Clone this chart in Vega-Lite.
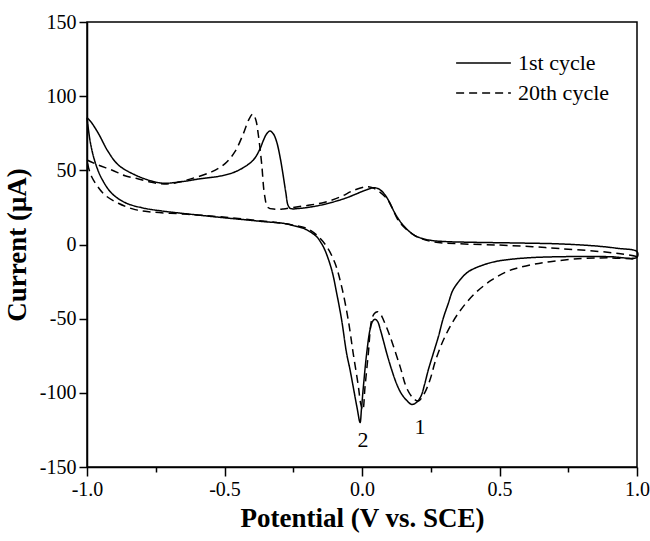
{
  "$schema": "https://vega.github.io/schema/vega-lite/v6.json",
  "width": 550,
  "height": 445,
  "autosize": "none",
  "padding": {"left": 87, "top": 22, "right": 13, "bottom": 74},
  "background": "white",
  "config": {
    "font": "Times New Roman, Liberation Serif, DejaVu Serif, serif",
    "view": {"stroke": "black", "strokeWidth": 1.5},
    "axis": {
      "grid": false,
      "domainColor": "black",
      "domainWidth": 1.5,
      "tickColor": "black",
      "tickWidth": 1.5,
      "labelColor": "black",
      "labelFont": "Times New Roman, Liberation Serif, DejaVu Serif, serif",
      "labelFontSize": 20,
      "labelFlush": false,
      "labelOverlap": false,
      "titleColor": "black",
      "titleFont": "Times New Roman, Liberation Serif, DejaVu Serif, serif",
      "titleFontSize": 27,
      "titleFontWeight": "bold"
    }
  },
  "datasets": {
    "cv": [
      {"cycle": "1st cycle", "seq": 1, "E": -1.0, "I": 85.5},
      {"cycle": "1st cycle", "seq": 2, "E": -0.985, "I": 82.5},
      {"cycle": "1st cycle", "seq": 3, "E": -0.959, "I": 75},
      {"cycle": "1st cycle", "seq": 4, "E": -0.923, "I": 62.6},
      {"cycle": "1st cycle", "seq": 5, "E": -0.886, "I": 53.6},
      {"cycle": "1st cycle", "seq": 6, "E": -0.825, "I": 46.9},
      {"cycle": "1st cycle", "seq": 7, "E": -0.765, "I": 42.8},
      {"cycle": "1st cycle", "seq": 8, "E": -0.722, "I": 41.3},
      {"cycle": "1st cycle", "seq": 9, "E": -0.65, "I": 42.5},
      {"cycle": "1st cycle", "seq": 10, "E": -0.589, "I": 44.3},
      {"cycle": "1st cycle", "seq": 11, "E": -0.52, "I": 46},
      {"cycle": "1st cycle", "seq": 12, "E": -0.468, "I": 48.5},
      {"cycle": "1st cycle", "seq": 13, "E": -0.43, "I": 52},
      {"cycle": "1st cycle", "seq": 14, "E": -0.395, "I": 57},
      {"cycle": "1st cycle", "seq": 15, "E": -0.372, "I": 64},
      {"cycle": "1st cycle", "seq": 16, "E": -0.359, "I": 70},
      {"cycle": "1st cycle", "seq": 17, "E": -0.347, "I": 74.5},
      {"cycle": "1st cycle", "seq": 18, "E": -0.335, "I": 76.5},
      {"cycle": "1st cycle", "seq": 19, "E": -0.322, "I": 74.5},
      {"cycle": "1st cycle", "seq": 20, "E": -0.31, "I": 69},
      {"cycle": "1st cycle", "seq": 21, "E": -0.298, "I": 59},
      {"cycle": "1st cycle", "seq": 22, "E": -0.287, "I": 47},
      {"cycle": "1st cycle", "seq": 23, "E": -0.277, "I": 35},
      {"cycle": "1st cycle", "seq": 24, "E": -0.269, "I": 26.5},
      {"cycle": "1st cycle", "seq": 25, "E": -0.26, "I": 24.3},
      {"cycle": "1st cycle", "seq": 26, "E": -0.225, "I": 24.4},
      {"cycle": "1st cycle", "seq": 27, "E": -0.18, "I": 25.5},
      {"cycle": "1st cycle", "seq": 28, "E": -0.135, "I": 27.2},
      {"cycle": "1st cycle", "seq": 29, "E": -0.062, "I": 31.1},
      {"cycle": "1st cycle", "seq": 30, "E": 0.011, "I": 36.5},
      {"cycle": "1st cycle", "seq": 31, "E": 0.035, "I": 38},
      {"cycle": "1st cycle", "seq": 32, "E": 0.047, "I": 38.3},
      {"cycle": "1st cycle", "seq": 33, "E": 0.065, "I": 37},
      {"cycle": "1st cycle", "seq": 34, "E": 0.084, "I": 33.4},
      {"cycle": "1st cycle", "seq": 35, "E": 0.1, "I": 28.5},
      {"cycle": "1st cycle", "seq": 36, "E": 0.12, "I": 21},
      {"cycle": "1st cycle", "seq": 37, "E": 0.145, "I": 14},
      {"cycle": "1st cycle", "seq": 38, "E": 0.169, "I": 9.3},
      {"cycle": "1st cycle", "seq": 39, "E": 0.192, "I": 6},
      {"cycle": "1st cycle", "seq": 40, "E": 0.217, "I": 4.2},
      {"cycle": "1st cycle", "seq": 41, "E": 0.25, "I": 2.8},
      {"cycle": "1st cycle", "seq": 42, "E": 0.3, "I": 2},
      {"cycle": "1st cycle", "seq": 43, "E": 0.4, "I": 1.5},
      {"cycle": "1st cycle", "seq": 44, "E": 0.5, "I": 1.2},
      {"cycle": "1st cycle", "seq": 45, "E": 0.6, "I": 0.9},
      {"cycle": "1st cycle", "seq": 46, "E": 0.72, "I": 0.4},
      {"cycle": "1st cycle", "seq": 47, "E": 0.85, "I": -1},
      {"cycle": "1st cycle", "seq": 48, "E": 0.93, "I": -2.6},
      {"cycle": "1st cycle", "seq": 49, "E": 1.0, "I": -4.8},
      {"cycle": "1st cycle", "seq": 50, "E": 1.0, "I": -8.6},
      {"cycle": "1st cycle", "seq": 51, "E": 0.9, "I": -8.2},
      {"cycle": "1st cycle", "seq": 52, "E": 0.8, "I": -8.1},
      {"cycle": "1st cycle", "seq": 53, "E": 0.7, "I": -8.3},
      {"cycle": "1st cycle", "seq": 54, "E": 0.62, "I": -8.8},
      {"cycle": "1st cycle", "seq": 55, "E": 0.55, "I": -9.8},
      {"cycle": "1st cycle", "seq": 56, "E": 0.49, "I": -11.3},
      {"cycle": "1st cycle", "seq": 57, "E": 0.441, "I": -13.8},
      {"cycle": "1st cycle", "seq": 58, "E": 0.387, "I": -18.3},
      {"cycle": "1st cycle", "seq": 59, "E": 0.356, "I": -24},
      {"cycle": "1st cycle", "seq": 60, "E": 0.33, "I": -31},
      {"cycle": "1st cycle", "seq": 61, "E": 0.314, "I": -39.6},
      {"cycle": "1st cycle", "seq": 62, "E": 0.295, "I": -50},
      {"cycle": "1st cycle", "seq": 63, "E": 0.278, "I": -62},
      {"cycle": "1st cycle", "seq": 64, "E": 0.26, "I": -73},
      {"cycle": "1st cycle", "seq": 65, "E": 0.241, "I": -84.6},
      {"cycle": "1st cycle", "seq": 66, "E": 0.228, "I": -94},
      {"cycle": "1st cycle", "seq": 67, "E": 0.215, "I": -102},
      {"cycle": "1st cycle", "seq": 68, "E": 0.198, "I": -106.5},
      {"cycle": "1st cycle", "seq": 69, "E": 0.181, "I": -107.8},
      {"cycle": "1st cycle", "seq": 70, "E": 0.162, "I": -105},
      {"cycle": "1st cycle", "seq": 71, "E": 0.143, "I": -100.5},
      {"cycle": "1st cycle", "seq": 72, "E": 0.126, "I": -94},
      {"cycle": "1st cycle", "seq": 73, "E": 0.108, "I": -84.5},
      {"cycle": "1st cycle", "seq": 74, "E": 0.09, "I": -73.4},
      {"cycle": "1st cycle", "seq": 75, "E": 0.078, "I": -65},
      {"cycle": "1st cycle", "seq": 76, "E": 0.067, "I": -57.6},
      {"cycle": "1st cycle", "seq": 77, "E": 0.057, "I": -52},
      {"cycle": "1st cycle", "seq": 78, "E": 0.047, "I": -50.4},
      {"cycle": "1st cycle", "seq": 79, "E": 0.038, "I": -52},
      {"cycle": "1st cycle", "seq": 80, "E": 0.029, "I": -57.6},
      {"cycle": "1st cycle", "seq": 81, "E": 0.017, "I": -73.4},
      {"cycle": "1st cycle", "seq": 82, "E": 0.005, "I": -95.9},
      {"cycle": "1st cycle", "seq": 83, "E": -0.002, "I": -111},
      {"cycle": "1st cycle", "seq": 84, "E": -0.007, "I": -120},
      {"cycle": "1st cycle", "seq": 85, "E": -0.018, "I": -110},
      {"cycle": "1st cycle", "seq": 86, "E": -0.032, "I": -95.9},
      {"cycle": "1st cycle", "seq": 87, "E": -0.044, "I": -84},
      {"cycle": "1st cycle", "seq": 88, "E": -0.056, "I": -73.4},
      {"cycle": "1st cycle", "seq": 89, "E": -0.074, "I": -50.9},
      {"cycle": "1st cycle", "seq": 90, "E": -0.092, "I": -32.9},
      {"cycle": "1st cycle", "seq": 91, "E": -0.11, "I": -17.2},
      {"cycle": "1st cycle", "seq": 92, "E": -0.135, "I": -3.7},
      {"cycle": "1st cycle", "seq": 93, "E": -0.15, "I": 1.5},
      {"cycle": "1st cycle", "seq": 94, "E": -0.165, "I": 5.3},
      {"cycle": "1st cycle", "seq": 95, "E": -0.19, "I": 8.7},
      {"cycle": "1st cycle", "seq": 96, "E": -0.213, "I": 10.9},
      {"cycle": "1st cycle", "seq": 97, "E": -0.25, "I": 12.8},
      {"cycle": "1st cycle", "seq": 98, "E": -0.286, "I": 14.3},
      {"cycle": "1st cycle", "seq": 99, "E": -0.35, "I": 15.3},
      {"cycle": "1st cycle", "seq": 100, "E": -0.415, "I": 16.5},
      {"cycle": "1st cycle", "seq": 101, "E": -0.5, "I": 18},
      {"cycle": "1st cycle", "seq": 102, "E": -0.644, "I": 20.8},
      {"cycle": "1st cycle", "seq": 103, "E": -0.728, "I": 22.6},
      {"cycle": "1st cycle", "seq": 104, "E": -0.801, "I": 24.8},
      {"cycle": "1st cycle", "seq": 105, "E": -0.862, "I": 28.3},
      {"cycle": "1st cycle", "seq": 106, "E": -0.91, "I": 34.5},
      {"cycle": "1st cycle", "seq": 107, "E": -0.947, "I": 44.6},
      {"cycle": "1st cycle", "seq": 108, "E": -0.971, "I": 55.8},
      {"cycle": "1st cycle", "seq": 109, "E": -0.988, "I": 69},
      {"cycle": "1st cycle", "seq": 110, "E": -1.0, "I": 85.5},

      {"cycle": "20th cycle", "seq": 1, "E": -1.0, "I": 57},
      {"cycle": "20th cycle", "seq": 2, "E": -0.959, "I": 53.6},
      {"cycle": "20th cycle", "seq": 3, "E": -0.91, "I": 50.2},
      {"cycle": "20th cycle", "seq": 4, "E": -0.862, "I": 46.4},
      {"cycle": "20th cycle", "seq": 5, "E": -0.813, "I": 44.2},
      {"cycle": "20th cycle", "seq": 6, "E": -0.765, "I": 41.9},
      {"cycle": "20th cycle", "seq": 7, "E": -0.72, "I": 40.8},
      {"cycle": "20th cycle", "seq": 8, "E": -0.68, "I": 41.5},
      {"cycle": "20th cycle", "seq": 9, "E": -0.62, "I": 44.4},
      {"cycle": "20th cycle", "seq": 10, "E": -0.547, "I": 49},
      {"cycle": "20th cycle", "seq": 11, "E": -0.498, "I": 54.5},
      {"cycle": "20th cycle", "seq": 12, "E": -0.462, "I": 62.6},
      {"cycle": "20th cycle", "seq": 13, "E": -0.432, "I": 74.5},
      {"cycle": "20th cycle", "seq": 14, "E": -0.412, "I": 84},
      {"cycle": "20th cycle", "seq": 15, "E": -0.397, "I": 88},
      {"cycle": "20th cycle", "seq": 16, "E": -0.386, "I": 84},
      {"cycle": "20th cycle", "seq": 17, "E": -0.377, "I": 74},
      {"cycle": "20th cycle", "seq": 18, "E": -0.365, "I": 54.7},
      {"cycle": "20th cycle", "seq": 19, "E": -0.354, "I": 33},
      {"cycle": "20th cycle", "seq": 20, "E": -0.342, "I": 25},
      {"cycle": "20th cycle", "seq": 21, "E": -0.316, "I": 23.8},
      {"cycle": "20th cycle", "seq": 22, "E": -0.286, "I": 24},
      {"cycle": "20th cycle", "seq": 23, "E": -0.25, "I": 25},
      {"cycle": "20th cycle", "seq": 24, "E": -0.189, "I": 26.6},
      {"cycle": "20th cycle", "seq": 25, "E": -0.135, "I": 28.5},
      {"cycle": "20th cycle", "seq": 26, "E": -0.08, "I": 32},
      {"cycle": "20th cycle", "seq": 27, "E": -0.03, "I": 36.5},
      {"cycle": "20th cycle", "seq": 28, "E": 0.017, "I": 39},
      {"cycle": "20th cycle", "seq": 29, "E": 0.035, "I": 38.5},
      {"cycle": "20th cycle", "seq": 30, "E": 0.06, "I": 36},
      {"cycle": "20th cycle", "seq": 31, "E": 0.09, "I": 31},
      {"cycle": "20th cycle", "seq": 32, "E": 0.11, "I": 24.5},
      {"cycle": "20th cycle", "seq": 33, "E": 0.131, "I": 16.5},
      {"cycle": "20th cycle", "seq": 34, "E": 0.163, "I": 10},
      {"cycle": "20th cycle", "seq": 35, "E": 0.199, "I": 5.3},
      {"cycle": "20th cycle", "seq": 36, "E": 0.258, "I": 1.8},
      {"cycle": "20th cycle", "seq": 37, "E": 0.35, "I": 0.5},
      {"cycle": "20th cycle", "seq": 38, "E": 0.5, "I": -0.4},
      {"cycle": "20th cycle", "seq": 39, "E": 0.62, "I": -1.5},
      {"cycle": "20th cycle", "seq": 40, "E": 0.72, "I": -2.8},
      {"cycle": "20th cycle", "seq": 41, "E": 0.85, "I": -4.5},
      {"cycle": "20th cycle", "seq": 42, "E": 0.94, "I": -6.3},
      {"cycle": "20th cycle", "seq": 43, "E": 1.0, "I": -8.5},
      {"cycle": "20th cycle", "seq": 44, "E": 1.0, "I": -9.3},
      {"cycle": "20th cycle", "seq": 45, "E": 0.9, "I": -9},
      {"cycle": "20th cycle", "seq": 46, "E": 0.8, "I": -9.4},
      {"cycle": "20th cycle", "seq": 47, "E": 0.684, "I": -11.6},
      {"cycle": "20th cycle", "seq": 48, "E": 0.62, "I": -13.5},
      {"cycle": "20th cycle", "seq": 49, "E": 0.563, "I": -16},
      {"cycle": "20th cycle", "seq": 50, "E": 0.526, "I": -18.3},
      {"cycle": "20th cycle", "seq": 51, "E": 0.472, "I": -23.9},
      {"cycle": "20th cycle", "seq": 52, "E": 0.411, "I": -32.9},
      {"cycle": "20th cycle", "seq": 53, "E": 0.35, "I": -46.4},
      {"cycle": "20th cycle", "seq": 54, "E": 0.302, "I": -62},
      {"cycle": "20th cycle", "seq": 55, "E": 0.268, "I": -77.9},
      {"cycle": "20th cycle", "seq": 56, "E": 0.247, "I": -91.4},
      {"cycle": "20th cycle", "seq": 57, "E": 0.225, "I": -101},
      {"cycle": "20th cycle", "seq": 58, "E": 0.205, "I": -105.5},
      {"cycle": "20th cycle", "seq": 59, "E": 0.188, "I": -104},
      {"cycle": "20th cycle", "seq": 60, "E": 0.163, "I": -97},
      {"cycle": "20th cycle", "seq": 61, "E": 0.138, "I": -82},
      {"cycle": "20th cycle", "seq": 62, "E": 0.102, "I": -62},
      {"cycle": "20th cycle", "seq": 63, "E": 0.078, "I": -50.9},
      {"cycle": "20th cycle", "seq": 64, "E": 0.066, "I": -46.5},
      {"cycle": "20th cycle", "seq": 65, "E": 0.056, "I": -45.3},
      {"cycle": "20th cycle", "seq": 66, "E": 0.045, "I": -46.5},
      {"cycle": "20th cycle", "seq": 67, "E": 0.035, "I": -50.9},
      {"cycle": "20th cycle", "seq": 68, "E": 0.023, "I": -73.4},
      {"cycle": "20th cycle", "seq": 69, "E": 0.011, "I": -95.9},
      {"cycle": "20th cycle", "seq": 70, "E": 0.003, "I": -111.6},
      {"cycle": "20th cycle", "seq": 71, "E": -0.005, "I": -107},
      {"cycle": "20th cycle", "seq": 72, "E": -0.013, "I": -95.9},
      {"cycle": "20th cycle", "seq": 73, "E": -0.032, "I": -73.4},
      {"cycle": "20th cycle", "seq": 74, "E": -0.05, "I": -50.9},
      {"cycle": "20th cycle", "seq": 75, "E": -0.074, "I": -28.4},
      {"cycle": "20th cycle", "seq": 76, "E": -0.098, "I": -12.7},
      {"cycle": "20th cycle", "seq": 77, "E": -0.128, "I": -1.5},
      {"cycle": "20th cycle", "seq": 78, "E": -0.165, "I": 6.4},
      {"cycle": "20th cycle", "seq": 79, "E": -0.201, "I": 10.9},
      {"cycle": "20th cycle", "seq": 80, "E": -0.25, "I": 13},
      {"cycle": "20th cycle", "seq": 81, "E": -0.3, "I": 14.5},
      {"cycle": "20th cycle", "seq": 82, "E": -0.45, "I": 17.5},
      {"cycle": "20th cycle", "seq": 83, "E": -0.55, "I": 19.2},
      {"cycle": "20th cycle", "seq": 84, "E": -0.644, "I": 20.5},
      {"cycle": "20th cycle", "seq": 85, "E": -0.765, "I": 21.9},
      {"cycle": "20th cycle", "seq": 86, "E": -0.825, "I": 23.5},
      {"cycle": "20th cycle", "seq": 87, "E": -0.886, "I": 27.8},
      {"cycle": "20th cycle", "seq": 88, "E": -0.935, "I": 33.4},
      {"cycle": "20th cycle", "seq": 89, "E": -0.965, "I": 40.1},
      {"cycle": "20th cycle", "seq": 90, "E": -0.983, "I": 45.7},
      {"cycle": "20th cycle", "seq": 91, "E": -0.994, "I": 51.5},
      {"cycle": "20th cycle", "seq": 92, "E": -1.0, "I": 57}
    ],
    "peaks": [
      {"peak": "1", "E": 0.211, "I": -123},
      {"peak": "2", "E": 0.004, "I": -131.5}
    ]
  },
  "layer": [
    {
      "data": {"name": "cv"},
      "mark": {"type": "line", "color": "black", "strokeWidth": 1.5, "interpolate": "catmull-rom"},
      "encoding": {
        "x": {
          "field": "E",
          "type": "quantitative",
          "scale": {"domain": [-1, 1], "nice": false, "zero": false},
          "axis": {
            "title": "Potential (V vs. SCE)",
            "values": [-1, -0.75, -0.5, -0.25, 0, 0.25, 0.5, 0.75, 1],
            "labelExpr": "abs(datum.value * 2 - round(datum.value * 2)) < 0.001 ? replace(format(datum.value, '.1f'), '−', '-') : ''",
            "tickSize": {"condition": {"test": "abs(datum.value * 2 - round(datum.value * 2)) > 0.001", "value": 5}, "value": 9},
            "labelPadding": 3,
            "titlePadding": 6
          }
        },
        "y": {
          "field": "I",
          "type": "quantitative",
          "scale": {"domain": [-150, 150], "nice": false, "zero": false},
          "axis": {
            "title": "Current (μA)",
            "values": [-150, -125, -100, -75, -50, -25, 0, 25, 50, 75, 100, 125, 150],
            "labelExpr": "datum.value % 50 === 0 ? replace(format(datum.value, 'd'), '−', '-') : ''",
            "tickSize": {"condition": {"test": "datum.value % 50 !== 0", "value": 6}, "value": 8},
            "labelPadding": 3,
            "titlePadding": 8
          }
        },
        "order": {"field": "seq", "type": "quantitative"},
        "strokeDash": {
          "field": "cycle",
          "type": "nominal",
          "scale": {"domain": ["1st cycle", "20th cycle"], "range": [[1, 0], [8, 5]]},
          "legend": {
            "title": null,
            "orient": "none",
            "legendX": 368,
            "legendY": 28,
            "padding": 0,
            "symbolType": "stroke",
            "symbolSize": 3000,
            "symbolStrokeWidth": 1.5,
            "symbolStrokeColor": "black",
            "labelFont": "Times New Roman, Liberation Serif, DejaVu Serif, serif",
            "labelFontSize": 22,
            "labelColor": "black",
            "labelOffset": 6,
            "clipHeight": 26,
            "rowPadding": 4
          }
        }
      }
    },
    {
      "data": {"name": "peaks"},
      "mark": {"type": "text", "font": "Times New Roman, Liberation Serif, DejaVu Serif, serif", "fontSize": 22, "color": "black", "align": "center", "baseline": "middle"},
      "encoding": {
        "x": {"field": "E", "type": "quantitative"},
        "y": {"field": "I", "type": "quantitative"},
        "text": {"field": "peak"}
      }
    }
  ]
}
